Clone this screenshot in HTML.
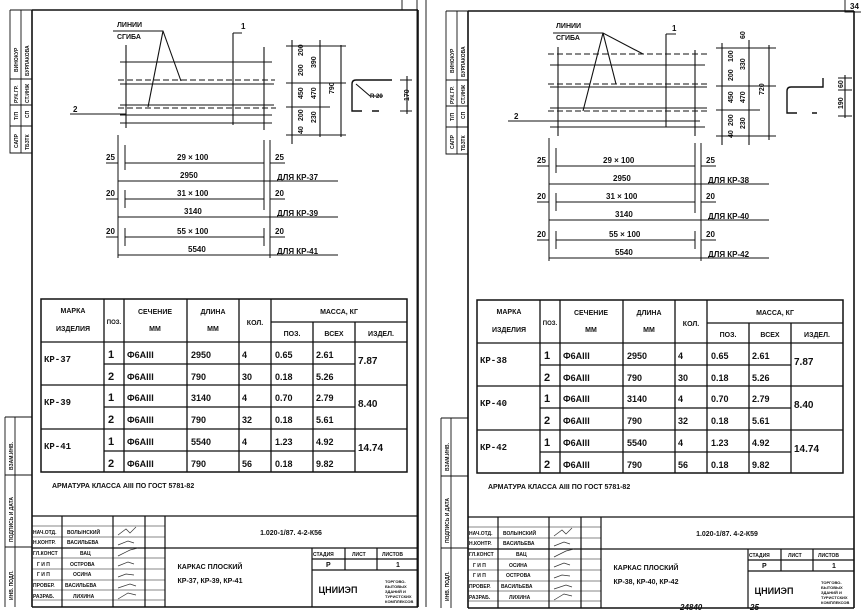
<!DOCTYPE html>
<html><head><meta charset="utf-8"><style>
html,body{margin:0;padding:0;background:#fff}
svg{display:block}
text{font-family:"Liberation Sans",sans-serif;fill:#111;font-weight:bold}
.m{font-family:"Liberation Mono",monospace}
</style></head><body>
<svg width="861" height="610" viewBox="0 0 861 610" xmlns="http://www.w3.org/2000/svg">
<defs>
<g id="frame" stroke="#111" fill="none">
  <path d="M32 10V607M418 10V607M32 10H418M32 607H418" stroke-width="1.6"/>
  <!-- top stamp -->
  <path d="M10 10V153H32M10 10H32M21 10V153M10 79H32M10 105H32M10 126H32" stroke-width="0.9"/>
  <!-- bottom stamp -->
  <path d="M5 417H32M5 417V607M15 417V607M5 475H32M5 547H32" stroke-width="0.9"/>
  <!-- table -->
  <rect x="41" y="299" width="366" height="173" stroke-width="1.5"/>
  <path d="M104 299V472M124 299V472M187 299V472M239 299V472M271 299V472M313 322V472M355 322V472M271 322H407M41 342H407M41 385H407M41 429H407M104 364H355M104 407H355M104 451H355" stroke-width="1.3"/>
  <!-- title block -->
  <path d="M32 516H418M32 548H418M62 516V607M113 516V607M145 516V607M165 516V607M312 548V607M312 559H418M312 570H418M345 548V570M377 548V570" stroke-width="1.2"/>
  <path d="M32 526H165M32 537H165M32 558H165M32 569H165M32 580H165M32 590H165M32 600H165" stroke-width="0.6"/>
</g>
<g id="lowdims" stroke="#111" fill="none" stroke-width="1">
  <path d="M118 135V258M125 145V170M125 190V208M125 228V246M264 140V210M264 228V246M270 140V258"/>
  <path d="M125 163H264M118 181H338M125 199H264M118 217H338M125 237H264M118 255H338"/>
  <path d="M106 163H118M270 163H285M106 199H118M270 199H285M106 237H118M270 237H285"/>
</g>
</defs>

<!-- page separators -->
<path d="M402 0V10M417 0V607M426 0V607" stroke="#222" stroke-width="1"/>
<path d="M845 0V12H861" stroke="#222" fill="none" stroke-width="1"/>
<text x="850" y="9" font-size="8">34</text>

<use href="#frame"/>
<use href="#frame" transform="translate(436,1)"/>

<!-- ================= LEFT SHEET DRAWING ================= -->
<g stroke="#111" fill="none" stroke-width="1.1">
  <path d="M113 31H163L181 81M163 31L148 107"/>
  <path d="M233 33H242M233 33V125"/>
  <path d="M126 45V128M264 47V130"/>
  <path d="M120 62H272M120 84H274M120 105H274M120 115H272M120 123H272"/>
  <path d="M118 80H275M118 108H276" stroke-dasharray="6 3"/>
  <path d="M70 114H126"/>
  <path d="M292 40V144M320 40V137M341 45V137M286 46H346M286 83H346M286 107H330M286 135H346"/>
  <path d="M392 80H356Q352 80 352 84V111H362M372 111H379" stroke-width="1.4"/>
  <path d="M356 84L370 96H383M407 76V114M400 80H412M400 111H412"/>
</g>
<text x="117" y="27" font-size="7">ЛИНИИ</text>
<text x="117" y="39" font-size="7">СГИБА</text>
<text x="241" y="29" font-size="8">1</text>
<text x="73" y="112" font-size="8">2</text>
<text x="370" y="98" font-size="6">R 20</text>
<g font-size="7" font-weight="normal">
<text transform="translate(303,56) rotate(-90)">200</text>
<text transform="translate(303,76) rotate(-90)">200</text>
<text transform="translate(303,99) rotate(-90)">450</text>
<text transform="translate(303,121) rotate(-90)">200</text>
<text transform="translate(303,134) rotate(-90)">40</text>
<text transform="translate(316,68) rotate(-90)">390</text>
<text transform="translate(316,99) rotate(-90)">470</text>
<text transform="translate(316,123) rotate(-90)">230</text>
<text transform="translate(334,94) rotate(-90)">790</text>
<text transform="translate(409,101) rotate(-90)">170</text>
</g>
<use href="#lowdims"/>
<g font-size="8" font-weight="normal">
<text x="106" y="160">25</text><text x="177" y="160">29 × 100</text><text x="275" y="160">25</text>
<text x="180" y="178">2950</text><text x="277" y="180">ДЛЯ КР-37</text>
<text x="106" y="196">20</text><text x="177" y="196">31 × 100</text><text x="275" y="196">20</text>
<text x="184" y="214">3140</text><text x="277" y="216">ДЛЯ КР-39</text>
<text x="106" y="234">20</text><text x="177" y="234">55 × 100</text><text x="275" y="234">20</text>
<text x="188" y="252">5540</text><text x="277" y="254">ДЛЯ КР-41</text>
</g>

<!-- ================= RIGHT SHEET DRAWING ================= -->
<g stroke="#111" fill="none" stroke-width="1.1">
  <path d="M553 33H603L643 54M603 33L616 84M603 33L583 111"/>
  <path d="M666 34H676M666 34V127"/>
  <path d="M558 47V136M695 50V136"/>
  <path d="M550 65H705M550 87H707M550 108H707M550 121H700M550 127H705"/>
  <path d="M548 54H707M548 84H707M548 111H707" stroke-dasharray="6 3"/>
  <path d="M508 121H558"/>
  <path d="M722 43V145M749 40V145M769 45V140M716 48H776M716 86H776M716 110H760M716 136H776"/>
  <path d="M823 78V87H791Q787 87 787 91V113H797M812 113H817" stroke-width="1.4"/>
  <path d="M845 75V118M838 78H852M838 90H852M838 116H852"/>
</g>
<text x="556" y="28" font-size="7">ЛИНИИ</text>
<text x="556" y="40" font-size="7">СГИБА</text>
<text x="672" y="31" font-size="8">1</text>
<text x="514" y="119" font-size="8">2</text>
<g font-size="7" font-weight="normal">
<text transform="translate(733,62) rotate(-90)">100</text>
<text transform="translate(733,81) rotate(-90)">200</text>
<text transform="translate(733,103) rotate(-90)">450</text>
<text transform="translate(733,126) rotate(-90)">200</text>
<text transform="translate(733,138) rotate(-90)">40</text>
<text transform="translate(745,39) rotate(-90)">60</text>
<text transform="translate(745,70) rotate(-90)">330</text>
<text transform="translate(745,103) rotate(-90)">470</text>
<text transform="translate(745,129) rotate(-90)">230</text>
<text transform="translate(764,95) rotate(-90)">720</text>
<text transform="translate(843,88) rotate(-90)">60</text>
<text transform="translate(843,109) rotate(-90)">190</text>
</g>
<use href="#lowdims" transform="translate(431,3)"/>
<g font-size="8" font-weight="normal">
<text x="537" y="163">25</text><text x="603" y="163">29 × 100</text><text x="706" y="163">25</text>
<text x="613" y="181">2950</text><text x="708" y="183">ДЛЯ КР-38</text>
<text x="537" y="199">20</text><text x="606" y="199">31 × 100</text><text x="706" y="199">20</text>
<text x="615" y="217">3140</text><text x="708" y="219">ДЛЯ КР-40</text>
<text x="537" y="237">20</text><text x="609" y="237">55 × 100</text><text x="706" y="237">20</text>
<text x="615" y="255">5540</text><text x="708" y="257">ДЛЯ КР-42</text>
</g>

<!-- ================= TABLE TEXT / STAMPS (both sheets) ================= -->
<g id="txtL">
<g font-size="7">
<text x="73" y="313" text-anchor="middle">МАРКА</text>
<text x="73" y="331" text-anchor="middle">ИЗДЕЛИЯ</text>
<text x="114" y="324" text-anchor="middle" font-size="6">ПОЗ.</text>
<text x="155" y="314" text-anchor="middle">СЕЧЕНИЕ</text>
<text x="155" y="331" text-anchor="middle">ММ</text>
<text x="213" y="314" text-anchor="middle">ДЛИНА</text>
<text x="213" y="331" text-anchor="middle">ММ</text>
<text x="255" y="325" text-anchor="middle">КОЛ.</text>
<text x="339" y="314" text-anchor="middle">МАССА, КГ</text>
<text x="292" y="336" text-anchor="middle">ПОЗ.</text>
<text x="334" y="336" text-anchor="middle">ВСЕХ</text>
<text x="381" y="336" text-anchor="middle">ИЗДЕЛ.</text>
</g>
<g class="m" font-size="9">
<text x="44" y="362" class="m">КР-37</text><text x="44" y="405" class="m">КР-39</text><text x="44" y="449" class="m">КР-41</text>
<text x="108" y="358" font-size="11">1</text><text x="108" y="380" font-size="11">2</text>
<text x="108" y="401" font-size="11">1</text><text x="108" y="423" font-size="11">2</text>
<text x="108" y="445" font-size="11">1</text><text x="108" y="467" font-size="11">2</text>
<text x="127" y="358">Ф6АIII</text><text x="127" y="380">Ф6АIII</text><text x="127" y="401">Ф6АIII</text><text x="127" y="423">Ф6АIII</text><text x="127" y="445">Ф6АIII</text><text x="127" y="467">Ф6АIII</text>
<text x="191" y="358">2950</text><text x="191" y="380">790</text><text x="191" y="401">3140</text><text x="191" y="423">790</text><text x="191" y="445">5540</text><text x="191" y="467">790</text>
<text x="242" y="358">4</text><text x="242" y="380">30</text><text x="242" y="401">4</text><text x="242" y="423">32</text><text x="242" y="445">4</text><text x="242" y="467">56</text>
<text x="275" y="358">0.65</text><text x="275" y="380">0.18</text><text x="275" y="401">0.70</text><text x="275" y="423">0.18</text><text x="275" y="445">1.23</text><text x="275" y="467">0.18</text>
<text x="316" y="358">2.61</text><text x="316" y="380">5.26</text><text x="316" y="401">2.79</text><text x="316" y="423">5.61</text><text x="316" y="445">4.92</text><text x="316" y="467">9.82</text>
<text x="358" y="364" font-size="10">7.87</text><text x="358" y="407" font-size="10">8.40</text><text x="358" y="451" font-size="10">14.74</text>
</g>
<text x="52" y="488" font-size="7">АРМАТУРА КЛАССА АIII ПО ГОСТ 5781-82</text>
<text x="291" y="535" font-size="7" text-anchor="middle">1.020-1/87.  4-2-К56</text>
<text x="210" y="569" font-size="7" text-anchor="middle">КАРКАС  ПЛОСКИЙ</text>
<text x="210" y="583" font-size="7" text-anchor="middle" font-weight="normal">КР-37, КР-39, КР-41</text>
<text x="338" y="593" font-size="9" text-anchor="middle" font-weight="normal">ЦНИИЭП</text>
<g font-size="5" font-weight="normal">
<text x="313" y="556">СТАДИЯ</text><text x="352" y="556">ЛИСТ</text><text x="382" y="556">ЛИСТОВ</text>
<text x="326" y="567" font-size="7">Р</text><text x="396" y="567" font-size="7">1</text>
<text x="385" y="583" font-size="4">ТОРГОВО-</text><text x="385" y="588" font-size="4">БЫТОВЫХ</text><text x="385" y="593" font-size="4">ЗДАНИЙ И</text><text x="385" y="598" font-size="4">ТУРИСТСКИХ</text><text x="385" y="603" font-size="4">КОМПЛЕКСОВ</text>
<text x="33" y="534">НАЧ.ОТД.</text><text x="33" y="544">Н.КОНТР.</text><text x="33" y="555">ГЛ.КОНСТ</text><text x="37" y="566">Г И П</text><text x="37" y="576">Г И П</text><text x="33" y="587">ПРОВЕР.</text><text x="33" y="598">РАЗРАБ.</text>
<text x="67" y="534">ВОЛЫНСКИЙ</text><text x="67" y="544">ВАСИЛЬЕВА</text><text x="80" y="555">ВАЦ</text><text x="70" y="566">ОСТРОВА</text><text x="73" y="576">ОСИНА</text><text x="65" y="587">ВАСИЛЬЕВА</text><text x="73" y="598">ЛИХИНА</text>
<text transform="translate(18,72) rotate(-90)">ВИНОКУР</text><text transform="translate(29,76) rotate(-90)">БУРЛАКОВА</text>
<text transform="translate(18,103) rotate(-90)">РУК.ГР.</text><text transform="translate(29,103) rotate(-90)">СТ.ИНЖ</text>
<text transform="translate(18,120) rotate(-90)">Т/П</text><text transform="translate(29,118) rotate(-90)">СП</text>
<text transform="translate(18,148) rotate(-90)">САПР</text><text transform="translate(29,150) rotate(-90)">ТБЗТК</text>
<text transform="translate(13,470) rotate(-90)">ВЗАМ.ИНВ.</text>
<text transform="translate(13,542) rotate(-90)">ПОДПИСЬ И ДАТА</text>
<text transform="translate(13,600) rotate(-90)">ИНВ. ПОДЛ.</text>
</g>
<path d="M118 535l8-6 4 4 6-6M118 545l10-4 6 2M118 556l12-6 8-2M118 566l10-4 6 2M118 577l8-3 8 1M118 588l12-4 6 2M118 599l10-6 8 2" stroke="#333" fill="none" stroke-width="0.7"/>
</g>

<g transform="translate(436,1)">
<g font-size="7">
<text x="73" y="313" text-anchor="middle">МАРКА</text>
<text x="73" y="331" text-anchor="middle">ИЗДЕЛИЯ</text>
<text x="114" y="324" text-anchor="middle" font-size="6">ПОЗ.</text>
<text x="155" y="314" text-anchor="middle">СЕЧЕНИЕ</text>
<text x="155" y="331" text-anchor="middle">ММ</text>
<text x="213" y="314" text-anchor="middle">ДЛИНА</text>
<text x="213" y="331" text-anchor="middle">ММ</text>
<text x="255" y="325" text-anchor="middle">КОЛ.</text>
<text x="339" y="314" text-anchor="middle">МАССА, КГ</text>
<text x="292" y="336" text-anchor="middle">ПОЗ.</text>
<text x="334" y="336" text-anchor="middle">ВСЕХ</text>
<text x="381" y="336" text-anchor="middle">ИЗДЕЛ.</text>
</g>
<g class="m" font-size="9">
<text x="44" y="362" class="m">КР-38</text><text x="44" y="405" class="m">КР-40</text><text x="44" y="449" class="m">КР-42</text>
<text x="108" y="358" font-size="11">1</text><text x="108" y="380" font-size="11">2</text>
<text x="108" y="401" font-size="11">1</text><text x="108" y="423" font-size="11">2</text>
<text x="108" y="445" font-size="11">1</text><text x="108" y="467" font-size="11">2</text>
<text x="127" y="358">Ф6АIII</text><text x="127" y="380">Ф6АIII</text><text x="127" y="401">Ф6АIII</text><text x="127" y="423">Ф6АIII</text><text x="127" y="445">Ф6АIII</text><text x="127" y="467">Ф6АIII</text>
<text x="191" y="358">2950</text><text x="191" y="380">790</text><text x="191" y="401">3140</text><text x="191" y="423">790</text><text x="191" y="445">5540</text><text x="191" y="467">790</text>
<text x="242" y="358">4</text><text x="242" y="380">30</text><text x="242" y="401">4</text><text x="242" y="423">32</text><text x="242" y="445">4</text><text x="242" y="467">56</text>
<text x="275" y="358">0.65</text><text x="275" y="380">0.18</text><text x="275" y="401">0.70</text><text x="275" y="423">0.18</text><text x="275" y="445">1.23</text><text x="275" y="467">0.18</text>
<text x="316" y="358">2.61</text><text x="316" y="380">5.26</text><text x="316" y="401">2.79</text><text x="316" y="423">5.61</text><text x="316" y="445">4.92</text><text x="316" y="467">9.82</text>
<text x="358" y="364" font-size="10">7.87</text><text x="358" y="407" font-size="10">8.40</text><text x="358" y="451" font-size="10">14.74</text>
</g>
<text x="52" y="488" font-size="7">АРМАТУРА КЛАССА АIII ПО ГОСТ 5781-82</text>
<text x="291" y="535" font-size="7" text-anchor="middle">1.020-1/87.  4-2-К59</text>
<text x="210" y="569" font-size="7" text-anchor="middle">КАРКАС  ПЛОСКИЙ</text>
<text x="210" y="583" font-size="7" text-anchor="middle" font-weight="normal">КР-38, КР-40, КР-42</text>
<text x="338" y="593" font-size="9" text-anchor="middle" font-weight="normal">ЦНИИЭП</text>
<g font-size="5" font-weight="normal">
<text x="313" y="556">СТАДИЯ</text><text x="352" y="556">ЛИСТ</text><text x="382" y="556">ЛИСТОВ</text>
<text x="326" y="567" font-size="7">Р</text><text x="396" y="567" font-size="7">1</text>
<text x="385" y="583" font-size="4">ТОРГОВО-</text><text x="385" y="588" font-size="4">БЫТОВЫХ</text><text x="385" y="593" font-size="4">ЗДАНИЙ И</text><text x="385" y="598" font-size="4">ТУРИСТСКИХ</text><text x="385" y="603" font-size="4">КОМПЛЕКСОВ</text>
<text x="33" y="534">НАЧ.ОТД.</text><text x="33" y="544">Н.КОНТР.</text><text x="33" y="555">ГЛ.КОНСТ</text><text x="37" y="566">Г И П</text><text x="37" y="576">Г И П</text><text x="33" y="587">ПРОВЕР.</text><text x="33" y="598">РАЗРАБ.</text>
<text x="67" y="534">ВОЛЫНСКИЙ</text><text x="67" y="544">ВАСИЛЬЕВА</text><text x="80" y="555">ВАЦ</text><text x="73" y="566">ОСИНА</text><text x="70" y="576">ОСТРОВА</text><text x="65" y="587">ВАСИЛЬЕВА</text><text x="73" y="598">ЛИХИНА</text>
<text transform="translate(18,72) rotate(-90)">ВИНОКУР</text><text transform="translate(29,76) rotate(-90)">БУРЛАКОВА</text>
<text transform="translate(18,103) rotate(-90)">РУК.ГР.</text><text transform="translate(29,103) rotate(-90)">СТ.ИНЖ</text>
<text transform="translate(18,120) rotate(-90)">Т/П</text><text transform="translate(29,118) rotate(-90)">СП</text>
<text transform="translate(18,148) rotate(-90)">САПР</text><text transform="translate(29,150) rotate(-90)">ТБЗТК</text>
<text transform="translate(13,470) rotate(-90)">ВЗАМ.ИНВ.</text>
<text transform="translate(13,542) rotate(-90)">ПОДПИСЬ И ДАТА</text>
<text transform="translate(13,600) rotate(-90)">ИНВ. ПОДЛ.</text>
</g>
<path d="M118 535l8-6 4 4 6-6M118 545l10-4 6 2M118 556l12-6 8-2M118 566l10-4 6 2M118 577l8-3 8 1M118 588l12-4 6 2M118 599l10-6 8 2" stroke="#333" fill="none" stroke-width="0.7"/>
</g>
<text x="680" y="610" font-size="8" font-style="italic">24840</text>
<text x="750" y="610" font-size="8" font-style="italic">25</text>
</svg>
</body></html>
